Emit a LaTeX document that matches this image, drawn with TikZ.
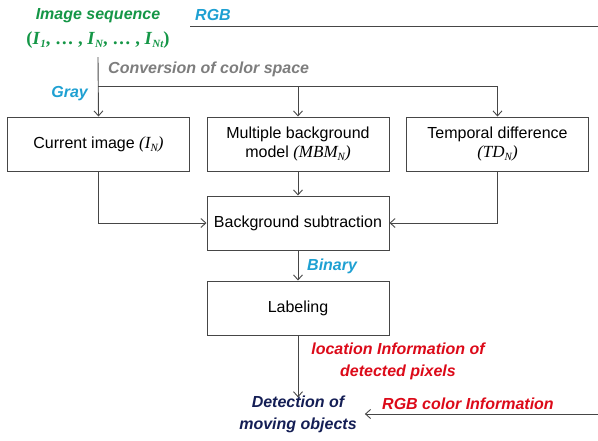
\documentclass[tikz,border=0pt]{standalone}
\usepackage{fontspec}
\setmainfont{Liberation Sans}
\newfontfamily\tms{Liberation Serif}
\usetikzlibrary{arrows.meta}
\definecolor{cgreen}{RGB}{20,150,70}
\definecolor{cblue}{RGB}{30,160,210}
\definecolor{cgray}{RGB}{125,125,125}
\definecolor{cred}{RGB}{220,10,25}
\definecolor{cnavy}{RGB}{20,30,85}
\definecolor{cline}{RGB}{70,70,70}
\newcommand{\msubx}[1]{\raisebox{-0.4ex}{\fontsize{11}{11}\selectfont\itshape #1}}
\newcommand{\mtx}[1]{{\tms\fontsize{17}{19}\selectfont\itshape #1}}
\begin{document}
\begin{tikzpicture}[x=1pt,y=-1pt,
  box/.style={draw=cline,line width=1pt,minimum width=182pt,minimum height=54pt,inner sep=0pt,align=center,font=\fontsize{16}{19}\selectfont},
  lbl/.style={font=\fontsize{16}{22}\selectfont\bfseries\itshape,inner sep=0pt,align=center},
  con/.style={draw=cline,line width=0.9pt},
  arr/.style={con,-{Straight Barb[length=5pt,width=9pt,line width=0.9pt]}}]
\useasboundingbox (0,0) rectangle (598,440);
% top labels
\node[lbl,text=cgreen] (seq) at (98,16) {Image sequence};
\node[inner sep=0pt,text=cgreen,font=\fontsize{18.5}{20}\selectfont\tms\bfseries] (seqI) at (98,40)
  {(\textit{I}\msubx{1}, \dots\ , \textit{I}\msubx{N}, \dots\ , \textit{I}\msubx{Nt})};
\node[lbl,text=cblue,anchor=west] (rgb) at (195,15) {RGB};
\coordinate (rgbL) at (190,26);
\coordinate (rgbR) at (598,26);
\draw[con] (rgbL) -- (rgbR);
\coordinate (top) at (98,57);
\node[lbl,text=cgray,anchor=west] (conv) at (108,69) {Conversion of color space};
\node[lbl,text=cblue,anchor=east] (gray) at (88,94) {Gray};
\coordinate (split) at (98,86);
% boxes
\node[box] (cur) at (98.5,144) {Current image \mtx{(I\msubx{N})}};
\node[box] (mbm) at (298,144) {Multiple background\\model \mtx{(MBM\msubx{N})}};
\node[box] (td) at (497.5,144) {Temporal difference\\\mtx{(TD\msubx{N})}};
\node[box] (bs) at (298,223) {Background subtraction};
\node[box] (lab) at (298,308) {Labeling};
\node[lbl,text=cblue,anchor=west] (bin) at (307,266) {Binary};
\node[lbl,text=cred] (loc) at (398,361) {location Information of\\detected pixels};
\node[lbl,text=cnavy,inner xsep=8pt] (det) at (298,414) {Detection of\\moving objects};
\node[lbl,text=cred,anchor=west] (rgbc) at (382,404) {RGB color Information};
\coordinate (rgbin) at (598,414);
% connectors
\draw[arr] (top) -- (cur.north);
\draw[con] (split) -- (split -| td.north);
\draw[arr] (split -| mbm.north) -- (mbm.north);
\draw[arr] (split -| td.north) -- (td.north);
\draw[arr] (cur.south) |- (bs.west);
\draw[arr] (td.south) |- (bs.east);
\draw[arr] (mbm.south) -- (bs.north);
\draw[arr] (bs.south) -- (lab.north);
\draw[arr] (lab.south) -- ([yshift=-2pt]det.north);
\draw[arr] (rgbin) -- (rgbin -| det.east);
\end{tikzpicture}
\end{document}
